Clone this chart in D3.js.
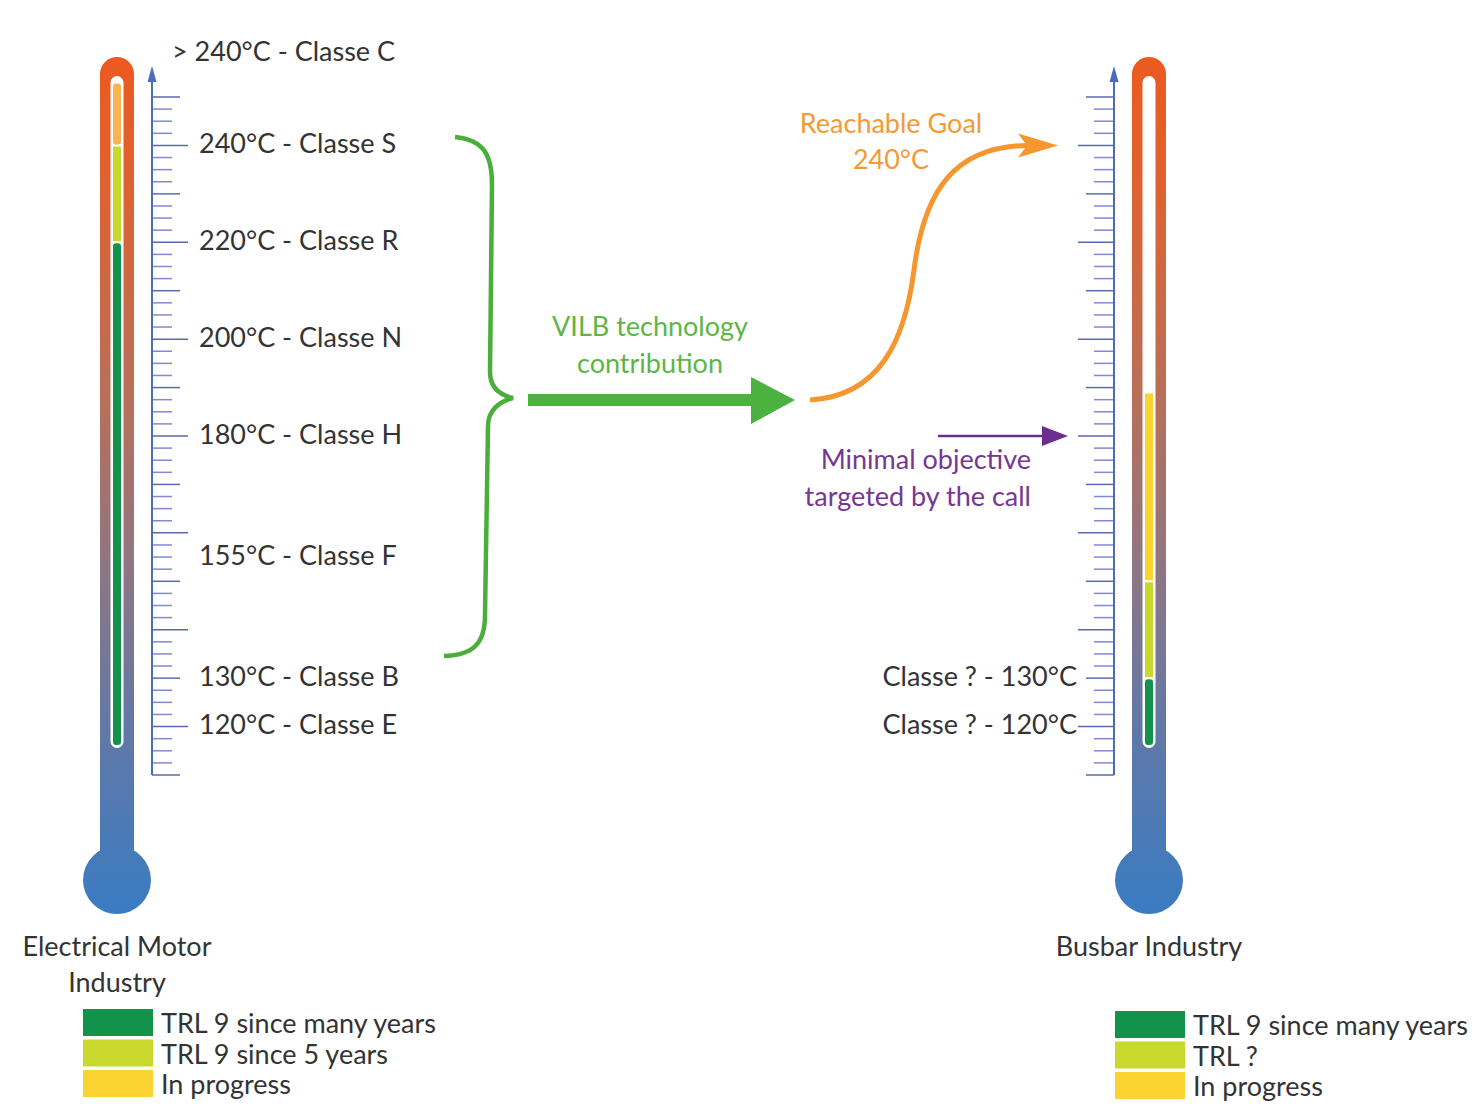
<!DOCTYPE html>
<html>
<head>
<meta charset="utf-8">
<script src="https://cdn.jsdelivr.net/npm/d3@7"></script>
<style>
  html, body { margin: 0; padding: 0; background: #fff; }
  text { font-family: Lato, "Open Sans", sans-serif; }
</style>
</head>
<body>
<div id="chart"></div>
<script>
// temperature classes on the left ruler
const leftClasses = [
  { t: 259, label: "> 240°C - Classe C" },
  { t: 240, label: "240°C - Classe S" },
  { t: 220, label: "220°C - Classe R" },
  { t: 200, label: "200°C - Classe N" },
  { t: 180, label: "180°C - Classe H" },
  { t: 155, label: "155°C - Classe F" },
  { t: 130, label: "130°C - Classe B" },
  { t: 120, label: "120°C - Classe E" },
];
const rightClasses = [
  { t: 130, label: "Classe ? - 130°C" },
  { t: 120, label: "Classe ? - 120°C" },
];

// filled parts of each thermometer (°C)
const motorLevels = [
  { lo: 116, hi: 220, cat: "many" },
  { lo: 220, hi: 240, cat: "five" },
  { lo: 240, hi: 253, cat: "top" },
];
const busbarLevels = [
  { lo: 116, hi: 130, cat: "many" },
  { lo: 130, hi: 150, cat: "five" },
  { lo: 150, hi: 189, cat: "progress" },
];

const motorLegend = ["TRL 9 since many years", "TRL 9 since 5 years", "In progress"];
const busbarLegend = ["TRL 9 since many years", "TRL ?", "In progress"];
const legendCats = ["many", "five", "progress"];

const reachableGoal = 240;
const minimalObjective = 180;

const colors = {
  many: "#12924a",
  five: "#c8d82c",
  progress: "#fcd431",
  top: "#f8b453",
};

const width = 1476, height = 1110;
const fs = 27;
const svg = d3.select("#chart").append("svg")
  .attr("width", width).attr("height", height);

const y = d3.scaleLinear().domain([110, 250]).range([775, 97]);
const ticks = d3.range(110, 250.01, 2.5);
const tickLen = (t) => (t % 20 === 0 ? 36 : t % 10 === 0 ? 28 : 20);

const defs = svg.append("defs");
const grad = defs.append("linearGradient")
  .attr("id", "tube").attr("gradientUnits", "userSpaceOnUse")
  .attr("x1", 0).attr("x2", 0).attr("y1", 57).attr("y2", 914);
[
  [0, "#ec5a1f"], [0.15, "#de6231"], [0.4, "#b7705a"],
  [0.6, "#8e7684"], [0.78, "#6278a6"], [1, "#3a7cc2"],
].forEach(([o, c]) => grad.append("stop").attr("offset", o).attr("stop-color", c));

function thermometer(cx, levels) {
  const g = svg.append("g");
  // outer tube + bulb
  g.append("rect").attr("x", cx - 17).attr("y", 57).attr("width", 34)
    .attr("height", 840).attr("rx", 17).attr("fill", "url(#tube)");
  g.append("circle").attr("cx", cx).attr("cy", 880).attr("r", 34)
    .attr("fill", "url(#tube)");
  // white channel
  g.append("rect").attr("x", cx - 6.5).attr("y", 76).attr("width", 13)
    .attr("height", 748 - 76).attr("rx", 6.5).attr("fill", "#fff");
  g.selectAll(".lvl").data(levels).join("rect")
    .attr("class", "lvl")
    .attr("x", cx - 4).attr("width", 8)
    .attr("y", (d) => y(d.hi) + 1)
    .attr("height", (d) => y(d.lo) - y(d.hi) - 2)
    .attr("rx", (d) => (d.lo === 116 || d.hi > 250 ? 3 : 0))
    .attr("fill", (d) => colors[d.cat]);
}

function ruler(x0, dir) {
  const g = svg.append("g");
  g.selectAll("line.tick").data(ticks).join("line")
    .attr("class", "tick")
    .attr("x1", x0).attr("x2", (t) => x0 + dir * tickLen(t))
    .attr("y1", (t) => y(t)).attr("y2", (t) => y(t))
    .attr("stroke", (t) => (t % 10 === 0 ? "#5a6aae" : "#8288d4"))
    .attr("stroke-width", 1.5);
  g.append("line").attr("x1", x0).attr("x2", x0)
    .attr("y1", y(110)).attr("y2", 76)
    .attr("stroke", "#4d6bbb").attr("stroke-width", 2);
  g.append("path")
    .attr("d", `M${x0},66 L${x0 - 4.5},82 L${x0 + 4.5},82 Z`)
    .attr("fill", "#4d6bbb");
}

thermometer(117, motorLevels);
thermometer(1149, busbarLevels);
ruler(152, 1);
ruler(1114, -1);

const txt = "#333";
svg.append("g").selectAll("text").data(leftClasses).join("text")
  .attr("x", (d) => (d.t > 250 ? 172 : 199))
  .attr("y", (d) => y(d.t) - 3)
  .attr("dominant-baseline", "central")
  .attr("font-size", fs).attr("fill", txt)
  .text((d) => d.label);

svg.append("g").selectAll("text").data(rightClasses).join("text")
  .attr("x", 1077).attr("y", (d) => y(d.t) - 3)
  .attr("text-anchor", "end").attr("dominant-baseline", "central")
  .attr("font-size", fs).attr("fill", txt)
  .text((d) => d.label);

// brace
svg.append("path")
  .attr("d", "M455,137 C484,140 492,155 492,185 L490,372 C490,388 500,395 513,398 " +
    "C500,401 488,410 488,426 L485,615 C485,645 472,655 444,656")
  .attr("fill", "none").attr("stroke", "#4aae3b").attr("stroke-width", 4.5);

// green arrow
svg.append("path")
  .attr("d", "M528,394 L751,394 L751,377 L795,400 L751,424 L751,406 L528,406 Z")
  .attr("fill", "#4cb23f");
svg.append("text").attr("x", 650).attr("y", 325).attr("text-anchor", "middle")
  .attr("dominant-baseline", "central").attr("font-size", fs).attr("fill", "#5cb646")
  .text("VILB technology");
svg.append("text").attr("x", 650).attr("y", 362).attr("text-anchor", "middle")
  .attr("dominant-baseline", "central").attr("font-size", fs).attr("fill", "#5cb646")
  .text("contribution");

// reachable goal curve
const gy = y(reachableGoal);
svg.append("path")
  .attr("d", `M810,400 C880,396 905,340 914,270 C924,190 955,${gy} 1030,${gy}`)
  .attr("fill", "none").attr("stroke", "#f5962e").attr("stroke-width", 5);
svg.append("path")
  .attr("d", `M1058,${gy} L1018,${gy - 12} L1027,${gy} L1018,${gy + 12} Z`)
  .attr("fill", "#f5962e");
svg.append("text").attr("x", 891).attr("y", 122).attr("text-anchor", "middle")
  .attr("dominant-baseline", "central").attr("font-size", fs).attr("fill", "#f39a36")
  .text("Reachable Goal");
svg.append("text").attr("x", 891).attr("y", 158).attr("text-anchor", "middle")
  .attr("dominant-baseline", "central").attr("font-size", fs).attr("fill", "#f39a36")
  .text(`${reachableGoal}°C`);

// minimal objective arrow
const my = y(minimalObjective);
svg.append("line").attr("x1", 938).attr("x2", 1046).attr("y1", my).attr("y2", my)
  .attr("stroke", "#6c2d91").attr("stroke-width", 2.5);
svg.append("path")
  .attr("d", `M1068,${my} L1042,${my - 10} L1042,${my + 10} Z`)
  .attr("fill", "#6c2d91");
svg.append("text").attr("x", 1031).attr("y", 458).attr("text-anchor", "end")
  .attr("dominant-baseline", "central").attr("font-size", fs).attr("fill", "#763794")
  .text("Minimal objective");
svg.append("text").attr("x", 1031).attr("y", 495).attr("text-anchor", "end")
  .attr("dominant-baseline", "central").attr("font-size", fs).attr("fill", "#763794")
  .text("targeted by the call");

// industry titles
[["Electrical Motor", 117, 945], ["Industry", 117, 981], ["Busbar Industry", 1149, 945]]
  .forEach(([s, x, yy]) => svg.append("text").attr("x", x).attr("y", yy)
    .attr("text-anchor", "middle").attr("dominant-baseline", "central")
    .attr("font-size", fs).attr("fill", txt).text(s));

function legend(x0, y0, labels) {
  const g = svg.append("g").attr("transform", `translate(${x0},${y0})`);
  const rows = g.selectAll("g").data(labels).join("g")
    .attr("transform", (d, i) => `translate(0,${i * 30.5})`);
  rows.append("rect").attr("width", 70).attr("height", 27)
    .attr("fill", (d, i) => colors[legendCats[i]]);
  rows.append("text").attr("x", 78).attr("y", 13.5)
    .attr("dominant-baseline", "central").attr("font-size", fs).attr("fill", txt)
    .text((d) => d);
}
legend(83, 1009, motorLegend);
legend(1115, 1011, busbarLegend);
</script>
</body>
</html>
